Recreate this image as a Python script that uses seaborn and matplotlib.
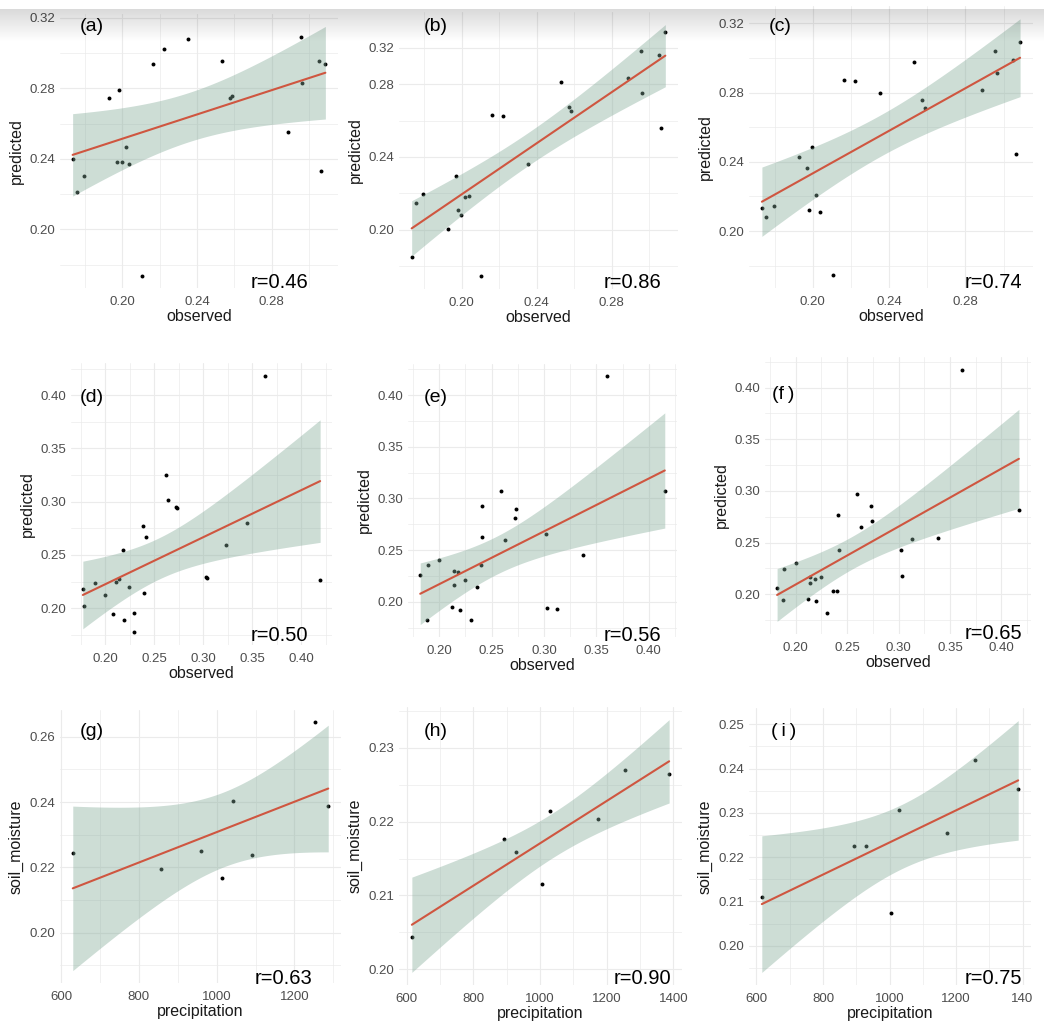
import numpy as np
import pandas as pd
import matplotlib
matplotlib.use("Agg")
import matplotlib.pyplot as plt
import seaborn as sns
from matplotlib.ticker import MultipleLocator, FixedLocator, FuncFormatter

# ---------------- data ----------------
# top row: same observed values, three model predictions
obs_top = [0.1733, 0.1754, 0.1795, 0.1926, 0.1971, 0.1982, 0.1996, 0.2018, 0.2037, 0.2104, 0.2161,
           0.2221, 0.2352, 0.2532, 0.2574, 0.2586, 0.2888, 0.2958, 0.2964, 0.3052, 0.3064, 0.3087]
pred_a = [0.2399, 0.2214, 0.2303, 0.2747, 0.2384, 0.2792, 0.2384, 0.2465, 0.2374, 0.1739, 0.2936,
          0.3025, 0.3078, 0.2957, 0.2743, 0.2755, 0.2552, 0.3091, 0.2830, 0.2957, 0.2329, 0.2938]
pred_b = [0.1852, 0.2145, 0.2194, 0.2004, 0.2297, 0.2108, 0.2082, 0.2179, 0.2183, 0.1744, 0.2628,
          0.2626, 0.2363, 0.2813, 0.2677, 0.2654, 0.2835, 0.2981, 0.2752, 0.2959, 0.2560, 0.3086]
pred_c = [0.2136, 0.2083, 0.2142, 0.2426, 0.2365, 0.2123, 0.2484, 0.2211, 0.2111, 0.1745, 0.2872,
          0.2866, 0.2799, 0.2979, 0.2758, 0.2709, 0.2818, 0.3041, 0.2914, 0.2989, 0.2444, 0.3091]

# middle row
obs_d = [0.1772, 0.1786, 0.1891, 0.2000, 0.2082, 0.2109, 0.2136, 0.2180, 0.2194, 0.2241, 0.2299, 0.2299,
         0.2381, 0.2401, 0.2418, 0.2619, 0.2636, 0.2724, 0.2738, 0.3027, 0.3044, 0.3235, 0.3452, 0.3633, 0.4194]
pred_d = [0.2182, 0.2022, 0.2241, 0.2125, 0.1944, 0.2250, 0.2275, 0.2551, 0.1890, 0.2200, 0.1953, 0.1775,
          0.2770, 0.2141, 0.2670, 0.3252, 0.3020, 0.2951, 0.2945, 0.2291, 0.2285, 0.2592, 0.2804, 0.4182, 0.2269]
obs_e = [0.1819, 0.1879, 0.1892, 0.1997, 0.2124, 0.2137, 0.2140, 0.2184, 0.2200, 0.2244, 0.2302, 0.2356,
         0.2397, 0.2406, 0.2410, 0.2594, 0.2629, 0.2727, 0.2737, 0.3019, 0.3029, 0.3121, 0.3371, 0.3603, 0.4152]
pred_e = [0.2257, 0.1825, 0.2352, 0.2400, 0.1946, 0.2302, 0.2159, 0.2289, 0.1921, 0.2210, 0.1822, 0.2140,
          0.2356, 0.2930, 0.2632, 0.3070, 0.2603, 0.2813, 0.2895, 0.2654, 0.1937, 0.1930, 0.2457, 0.4181, 0.3073]
obs_f = [0.1818, 0.1876, 0.1889, 0.2000, 0.2120, 0.2140, 0.2143, 0.2185, 0.2198, 0.2250, 0.2302, 0.2358,
         0.2403, 0.2413, 0.2416, 0.2598, 0.2634, 0.2732, 0.2741, 0.3028, 0.3037, 0.3132, 0.3382, 0.3620, 0.4172]
pred_f = [0.2059, 0.1944, 0.2244, 0.2306, 0.1953, 0.2113, 0.2166, 0.2147, 0.1934, 0.2163, 0.1819, 0.2031,
          0.2028, 0.2772, 0.2431, 0.2972, 0.2650, 0.2856, 0.2713, 0.2431, 0.2181, 0.2538, 0.2544, 0.4175, 0.2819]

# bottom row
precip_g = [630, 858, 961, 1013, 1043, 1090, 1254, 1287]
soil_g = [0.2243, 0.2194, 0.2249, 0.2169, 0.2404, 0.2237, 0.2644, 0.2388]
precip_hi = [616, 893, 928, 1005, 1029, 1173, 1256, 1387]
soil_h = [0.2043, 0.2176, 0.2159, 0.2116, 0.2215, 0.2203, 0.2270, 0.2265]
soil_i = [0.2109, 0.2225, 0.2226, 0.2074, 0.2307, 0.2254, 0.2419, 0.2355]

tags = ["(a)", "(b)", "(c)", "(d)", "(e)", "(f\u2009)", "(g)", "(h)", "(\u2009i\u2009)"]
r_labels = ["r=0.46", "r=0.86", "r=0.74", "r=0.50", "r=0.56", "r=0.65", "r=0.63", "r=0.90", "r=0.75"]

# ---------------- style ----------------
sns.set_theme(style="white")
plt.rcParams['font.family'] = ['Liberation Sans', 'DejaVu Sans']

BAND = "#82aa98"
LINE = "#cf5640"
GRID = "#ebebeb"
TICK_C = "#4d4d4d"
T975 = {6: 2.447, 20: 2.086, 23: 2.069}   # t quantiles for the 95% band

W, H = 1044, 1035
fig = plt.figure(figsize=(W / 100, H / 100), dpi=100)
fig.patch.set_facecolor("white")


def panel(box, x, y, xlab, ylab, k, tag_xy, r_xy, xstep, ystep, xfmt="{:.2f}"):
    l, r, t, b = box
    ax = fig.add_axes([l / W, 1 - b / H, (r - l) / W, (b - t) / H])
    df = pd.DataFrame({"x": x, "y": y})
    sns.scatterplot(data=df, x="x", y="y", ax=ax, color="black", s=8, linewidth=0, zorder=2)

    # geom_smooth(method = "lm") style fit with 95% confidence band
    n = len(df)
    slope, icpt = np.polyfit(df.x, df.y, 1)
    resid = df.y - (icpt + slope * df.x)
    s = np.sqrt((resid ** 2).sum() / (n - 2))
    sxx = ((df.x - df.x.mean()) ** 2).sum()
    xs = np.linspace(df.x.min(), df.x.max(), 80)
    fit = icpt + slope * xs
    half = T975[n - 2] * s * np.sqrt(1 / n + (xs - df.x.mean()) ** 2 / sxx)
    ax.fill_between(xs, fit - half, fit + half, color=BAND, alpha=0.4, lw=0, zorder=3)
    sns.lineplot(x=xs, y=fit, ax=ax, color=LINE, lw=1.5, zorder=4)

    ax.xaxis.set_major_locator(MultipleLocator(xstep))
    ax.xaxis.set_minor_locator(MultipleLocator(xstep / 2))
    ax.yaxis.set_major_locator(MultipleLocator(ystep))
    ax.yaxis.set_minor_locator(MultipleLocator(ystep / 2))
    ax.xaxis.set_major_formatter(FuncFormatter(lambda v, p: xfmt.format(v)))
    ax.yaxis.set_major_formatter(FuncFormatter(lambda v, p: "{:.2f}".format(v)))

    ax.grid(which="major", color=GRID, lw=0.8)
    ax.grid(which="minor", color=GRID, lw=0.5)
    ax.set_axisbelow(True)
    for sp in ax.spines.values():
        sp.set_visible(False)
    ax.tick_params(which="both", length=0, labelsize=9.5, labelcolor=TICK_C)
    ax.tick_params(axis="x", pad=5.5)
    ax.tick_params(axis="y", pad=3.6)
    ax.set_xlabel(xlab, fontsize=11.5, color="#1a1a1a", labelpad=1)
    ax.set_ylabel(ylab, fontsize=11.5, color="#1a1a1a", labelpad=4)

    ax.text(tag_xy[0], tag_xy[1], tags[k], transform=ax.transAxes, fontsize=14,
            ha="left", va="center", color="black")
    ax.text(r_xy[0], r_xy[1], r_labels[k], transform=ax.transAxes, fontsize=14.5,
            ha="right", va="center", color="black")
    return ax


ax_a = panel((60, 338, 14, 288), obs_top, pred_a, "observed", "predicted", 0, (0.072, 0.954), (0.892, 0.02), 0.04, 0.04)
ax_b = panel((399, 678, 12, 289), obs_top, pred_b, "observed", "predicted", 1, (0.087, 0.947), (0.942, 0.023), 0.04, 0.04)
ax_c = panel((749, 1033, 6, 288), obs_top, pred_c, "observed", "predicted", 2, (0.069, 0.927), (0.962, 0.019), 0.04, 0.04)
ax_d = panel((71, 332, 363, 645), obs_d, pred_d, "observed", "predicted", 3, (0.034, 0.878), (0.909, 0.035), 0.05, 0.05)
ax_e = panel((408, 677, 364, 637), obs_e, pred_e, "observed", "predicted", 4, (0.057, 0.878), (0.943, 0.007), 0.05, 0.05)
ax_f = panel((765, 1031, 357, 634), obs_f, pred_f, "observed", "predicted", 5, (0.025, 0.863), (0.967, 0.003), 0.05, 0.05)
ax_g = panel((60, 341, 710, 983), precip_g, soil_g, "precipitation", "soil_moisture", 6, (0.071, 0.921), (0.899, 0.015), 200, 0.02, "{:.0f}")
ax_h = panel((399, 682, 707, 985), precip_hi, soil_h, "precipitation", "soil_moisture", 7, (0.086, 0.911), (0.961, 0.022), 200, 0.01, "{:.0f}")
ax_i = panel((749, 1031, 708, 985), precip_hi, soil_i, "precipitation", "soil_moisture", 8, (0.078, 0.914), (0.969, 0.022), 200, 0.01, "{:.0f}")

# panel (b): the top label sits on the 0.30 line in the original
ax_b.yaxis.set_major_locator(FixedLocator([0.20, 0.24, 0.28, 0.30]))
ax_b.yaxis.set_major_formatter(FuncFormatter(lambda v, p: {0.30: "0.32"}.get(round(v, 2), "{:.2f}".format(v))))
# panel (i): last x label is cut off at the image edge
ax_i.xaxis.set_major_formatter(FuncFormatter(lambda v, p: "140" if v == 1400 else "{:.0f}".format(v)))

# grey shadow along the top edge of the screenshot
shade = fig.add_axes([0, 1 - 42 / H, 1, 33 / H], zorder=10)
rgba = np.zeros((64, 2, 4))
rgba[..., 3] = np.linspace(0.15, 0.0, 64)[:, None]
shade.imshow(rgba, aspect="auto", interpolation="bilinear")
shade.axis("off")

fig.savefig("out.png", dpi=100, facecolor="white")
